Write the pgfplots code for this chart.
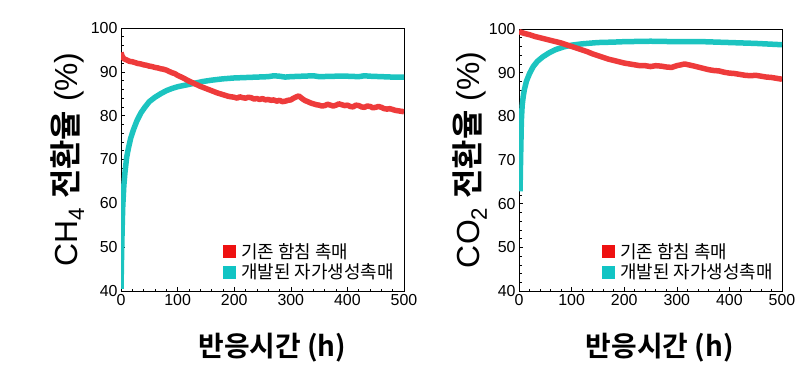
\documentclass[border=0pt]{standalone}
\usepackage{pgfplots}
\pgfplotsset{compat=1.18}
\usepackage{fontspec}
\setmainfont{Liberation Sans}
\newfontfamily\kr{Noto Sans CJK KR}[BoldFont={Noto Sans CJK KR Bold}]
\definecolor{cred}{HTML}{EE3B3B}
\definecolor{ccyan}{HTML}{1CC4C0}
\definecolor{lred}{HTML}{EE1111}
\definecolor{lcyan}{HTML}{11C4C4}

\pgfplotstableread{
x y
0 94.4
2 93.6
5 93.0
10 92.7
15 92.4
20 92.3
25 92.1
30 91.9
35 91.8
40 91.6
45 91.5
50 91.3
55 91.2
60 91.0
65 90.9
70 90.7
75 90.6
80 90.4
85 90.1
90 89.8
95 89.6
100 89.2
110 88.6
120 87.9
130 87.3
140 86.7
150 86.2
160 85.7
170 85.2
180 84.8
190 84.4
200 84.2
205 84.0
210 84.3
215 84.1
220 84.0
225 84.2
230 84.1
235 83.8
240 83.9
245 83.7
250 83.9
255 83.6
260 83.7
265 83.5
270 83.6
275 83.3
280 83.5
285 83.2
290 83.3
295 83.5
300 83.6
305 84.0
310 84.3
314 84.5
318 84.1
322 83.7
326 83.4
330 83.2
335 82.9
340 82.7
345 82.5
350 82.4
355 82.2
360 82.3
365 82.6
370 82.4
375 82.2
380 82.4
385 82.7
390 82.5
395 82.3
400 82.4
405 82.1
410 82.0
415 82.4
420 82.3
425 82.0
430 81.9
435 82.2
440 82.1
445 81.8
450 81.9
455 82.1
460 81.9
465 81.6
470 81.5
475 81.6
480 81.4
485 81.2
490 81.1
495 81.0
500 80.9
}\chred

\pgfplotstableread{
x y
0 40.5
1 48
2 54
3 59
5 64
7 67
10 70.5
13 72.5
17 74.8
22 76.8
28 78.8
35 80.6
42 81.9
50 83.2
60 84.2
70 85.0
80 85.7
90 86.2
100 86.6
115 87.0
130 87.4
145 87.8
160 88.1
180 88.4
200 88.6
220 88.7
240 88.8
260 88.9
270 89.1
280 89.0
290 88.8
300 88.9
320 89.0
340 89.1
350 88.9
380 89.0
400 89.0
420 88.9
430 89.1
440 89.0
460 88.9
480 88.8
500 88.8
}\chcyan

\pgfplotstableread{
x y
0 99.4
10 99.0
20 98.7
30 98.3
40 98.0
50 97.7
60 97.4
70 97.1
80 96.8
90 96.4
100 96.0
110 95.6
120 95.2
130 94.8
140 94.3
150 93.9
160 93.5
170 93.1
180 92.8
190 92.5
200 92.2
210 92.0
220 91.8
230 91.6
240 91.6
250 91.4
260 91.6
270 91.5
280 91.3
290 91.2
300 91.6
308 91.8
315 92.0
322 91.8
330 91.6
340 91.3
350 91.0
360 90.7
370 90.5
380 90.4
390 90.1
400 89.9
410 89.8
420 89.6
430 89.4
440 89.3
450 89.4
460 89.2
470 89.0
480 88.9
490 88.7
500 88.5
}\cored

\pgfplotstableread{
x y
2 62.8
3 70
4.5 79
6 82.5
8 84.5
10 86
14 88
20 89.8
27 91.4
35 92.6
45 93.6
58 94.6
70 95.3
85 95.9
100 96.3
120 96.6
150 96.9
180 97.0
200 97.1
250 97.2
300 97.1
350 97.1
400 96.9
450 96.7
500 96.4
}\cocyan

\pgfplotsset{
  myaxis/.style={
    scale only axis,
    xmin=0, xmax=500, ymin=40, ymax=100,
    xtick={0,100,...,500}, ytick={40,50,...,100},
    minor x tick num=4, minor y tick num=4,
    tick pos=left, tick align=inside,
    major tick length=4bp, minor tick length=2.5bp,
    axis line style={black, line width=0.8bp},
    every tick/.style={black, line width=0.6bp},
    /pgf/number format/assume math mode=true,
    ticklabel style={font=\fontsize{16}{19}\selectfont},
    xlabel={\kr\bfseries\fontsize{28}{32}\selectfont 반응시간 (h)},
    xlabel style={at={(axis description cs:0.535,-0.215)}, anchor=center},
    ylabel style={anchor=center, rotate=0},
    legend style={draw=none, fill=none, anchor=north west,
      font=\kr\fontsize{18}{20}\selectfont, row sep=0bp,
      inner sep=0pt},
    legend cell align=left,
    legend image code/.code={\fill[##1] (0bp,-6bp) rectangle (12bp,6bp);
      \node[draw=none, fill=none, inner sep=0pt, minimum size=0pt] at (16bp,0bp) {};},
  }
}

\begin{document}
\begin{tikzpicture}
\useasboundingbox (0,0) rectangle (805bp,376bp);
\begin{axis}[myaxis, at={(121bp,85bp)}, anchor=south west,
  width=283bp, height=263bp,
  ylabel={\fontsize{32}{36}\selectfont CH\textsubscript{4} {\kr\bfseries 전환율} (\%)},
  ylabel style={at={(axis description cs:-0.19,0.5)}},
  legend style={at={(axis description cs:0.36,0.19)}}]
\addlegendimage{color=lred}
\addlegendentry{기존 함침 촉매}
\addlegendimage{color=lcyan}
\addlegendentry{개발된 자가생성촉매}
\addplot[color=ccyan, line width=5.5bp, line join=round, forget plot] table[x=x,y=y] {\chcyan};
\addplot[color=cred, line width=5.5bp, line join=round, forget plot] table[x=x,y=y] {\chred};
\end{axis}
\begin{axis}[myaxis, at={(519bp,85bp)}, anchor=south west,
  width=263bp, height=262bp,
  ylabel={\fontsize{32}{36}\selectfont CO\textsubscript{2} {\kr\bfseries 전환율} (\%)},
  ylabel style={at={(axis description cs:-0.187,0.5)}},
  legend style={at={(axis description cs:0.315,0.19)}}]
\addlegendimage{color=lred}
\addlegendentry{기존 함침 촉매}
\addlegendimage{color=lcyan}
\addlegendentry{개발된 자가생성촉매}
\addplot[color=ccyan, line width=5.5bp, line join=round, forget plot] table[x=x,y=y] {\cocyan};
\addplot[color=cred, line width=5.5bp, line join=round, forget plot] table[x=x,y=y] {\cored};
\end{axis}
\end{tikzpicture}
\end{document}
